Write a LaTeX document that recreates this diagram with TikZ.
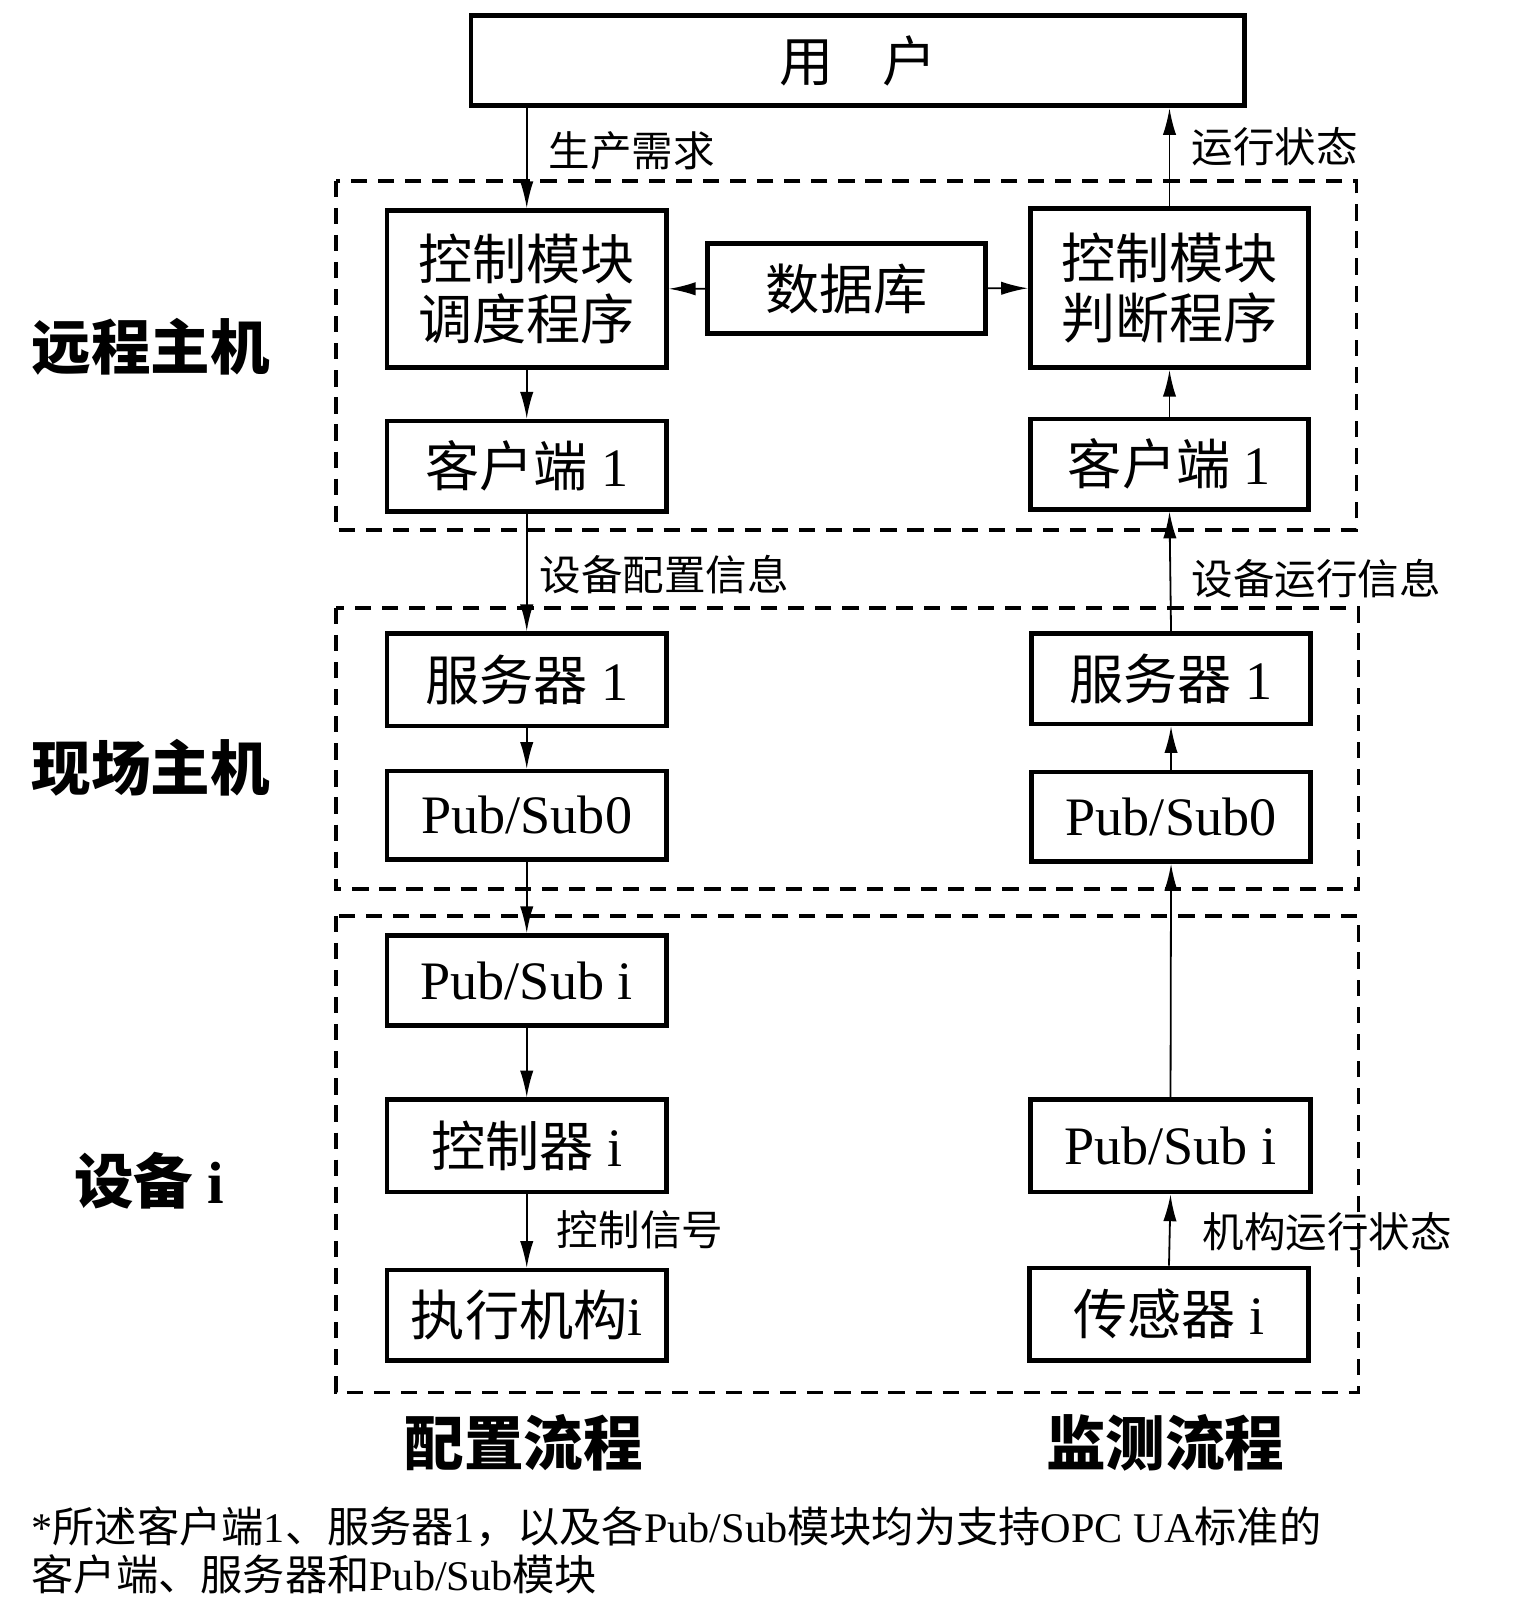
\documentclass[tikz,border=0pt]{standalone}
\usepackage{fontspec}
\setmainfont{Liberation Serif}
\newfontfamily\cjk{Noto Sans CJK SC}
\newcommand{\zh}[1]{{\cjk #1}}
\usetikzlibrary{arrows.meta}

\tikzset{
  blk/.style={draw, line width=1.3pt, minimum width=2.72cm, minimum height=0.88cm,
    inner sep=0pt, align=center, font=\fontsize{15}{16.5}\selectfont},
  zone/.style={line width=1pt, dash pattern=on 4.5pt off 3pt},
  flow/.style={-{Latex[length=2.6mm,width=1.3mm]}, line width=0.5pt},
  lbl/.style={anchor=west, font=\cjk\fontsize{11.5}{14}\selectfont},
  side/.style={font=\cjk\bfseries\fontsize{16.5}{20}\selectfont},
}

\begin{document}
\begin{tikzpicture}[x=0.01cm, y=-0.01cm]
  \useasboundingbox (0,0) rectangle (1498,1568);
  % zones
  \draw[zone] (327,176) rectangle (1321,516);
  \draw[zone] (327,592) rectangle (1323,866);
  \draw[zone] (327,892) rectangle (1323,1356);

  % user
  \node[blk, minimum width=7.53cm] (user) at (835.5,59) {\zh{用\hspace{0.9em}户}};

  % remote host
  \node[blk, minimum height=1.53cm] (sched) at (513,281.5) {\zh{控制模块}\\\zh{调度程序}};
  \node[blk, minimum width=2.71cm] (db) at (824.5,281) {\zh{数据库}};
  \node[blk, minimum width=2.71cm, minimum height=1.55cm] (judge) at (1139,280.5) {\zh{控制模块}\\\zh{判断程序}};
  \node[blk] (cliL) at (513,454) {\zh{客户端} 1};
  \node[blk, minimum width=2.71cm] (cliR) at (1139,452) {\zh{客户端} 1};

  % field host
  \node[blk, minimum height=0.9cm] (srvL) at (513,662) {\zh{服务器} 1};
  \node[blk, minimum width=2.71cm] (srvR) at (1140.5,661) {\zh{服务器} 1};
  \node[blk, minimum height=0.86cm] (psL) at (513,794) {Pub/Sub0};
  \node[blk, minimum width=2.71cm, minimum height=0.87cm] (psR) at (1140.5,795.5) {Pub/Sub0};

  % device i
  \node[blk] (psiL) at (513,955) {Pub/Sub i};
  \node[blk, minimum height=0.9cm] (ctl) at (513,1116) {\zh{控制器} i};
  \node[blk] (act) at (513,1281) {\zh{执行机构}i};
  \node[blk, minimum height=0.9cm] (psiR) at (1140,1116) {Pub/Sub i};
  \node[blk, minimum width=2.71cm, minimum height=0.9cm] (sens) at (1138.5,1280) {\zh{传感器} i};

  % configuration flow
  \draw[flow] (sched.north |- user.south) -- (sched.north);
  \draw[flow] (sched) -- (cliL);
  \draw[flow] (cliL) -- (srvL);
  \draw[flow] (srvL) -- (psL);
  \draw[flow] (psL) -- (psiL);
  \draw[flow] (psiL) -- (ctl);
  \draw[flow] (ctl) -- (act);
  \draw[flow] (db) -- (sched);
  \draw[flow] (db) -- (judge);

  % monitoring flow
  \draw[flow] (sens.north) -- (psiR.south);
  \draw[flow] (psiR.north) -- (psR.south);
  \draw[flow] (psR.north) -- (srvR.south);
  \draw[flow] (srvR.north) -- (cliR.south);
  \draw[flow] (cliR.north) -- (judge.south);
  \draw[flow] (judge.north) -- (judge.north |- user.south);

  % edge labels
  \node[lbl] (lreq) at (522,147) {生产需求};
  \node[lbl] (lstate) at (1148,143) {运行状态};
  \node[lbl] (lcfg) at (513,560) {设备配置信息};
  \node[lbl] (lrun) at (1148,563) {设备运行信息};
  \node[lbl] (lsig) at (530,1198) {控制信号};
  \node[lbl] (lmech) at (1159,1200) {机构运行状态};

  % side and bottom titles
  \node[side] (tremote) at (147,338) {远程主机};
  \node[side] (tfield) at (147,748) {现场主机};
  \node[side] (tdev) at (145,1150) {设备 {\rmfamily i}};
  \node[side] (tcfg) at (510,1405) {配置流程};
  \node[side] (tmon) at (1135,1405) {监测流程};

  % footnote
  \node[anchor=west, inner sep=0pt, font=\fontsize{11.7}{14}\selectfont] (note1) at (30,1487)
    {*\zh{所述客户端}1\zh{、服务器}1\zh{，以及各}Pub/Sub\zh{模块均为支持}OPC UA\zh{标准的}};
  \node[anchor=west, inner sep=0pt, font=\fontsize{11.7}{14}\selectfont] (note2) at (30,1533)
    {\zh{客户端、服务器和}Pub/Sub\zh{模块}};
\end{tikzpicture}
\end{document}
